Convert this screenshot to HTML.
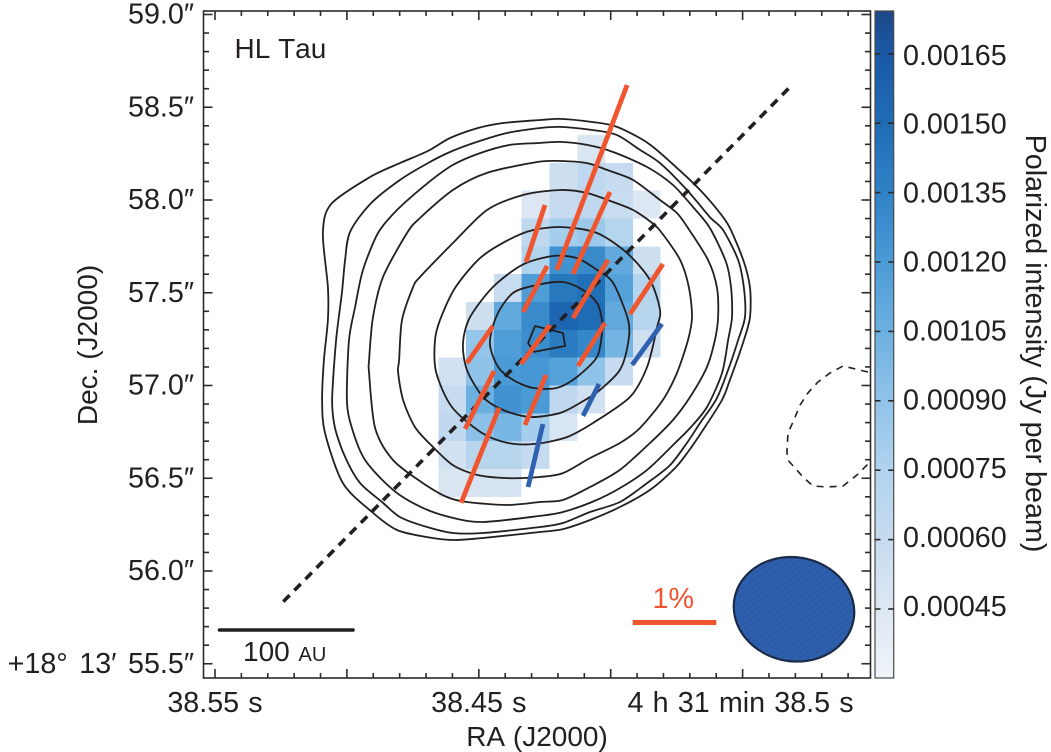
<!DOCTYPE html>
<html lang="en">
<head>
<meta charset="utf-8">
<title>HL Tau polarized intensity map</title>
<style>
html,body{margin:0;padding:0;background:#fff;width:1051px;height:752px;overflow:hidden}
svg{display:block}
text{font-family:"Liberation Sans",Arial,sans-serif;font-size:28.7px;fill:#231f20;font-kerning:none}
.title{font-size:28px}
</style>
</head>
<body>
<svg id="chart" width="1051" height="752" viewBox="0 0 1051 752" xmlns="http://www.w3.org/2000/svg">
  <defs>
    <clipPath id="plot-clip"><rect x="203.5" y="11" width="667" height="667"/></clipPath>
    <linearGradient id="cb-gradient" x1="0" y1="1" x2="0" y2="0"></linearGradient>
    <pattern id="beam-hatch" width="5" height="5" patternUnits="userSpaceOnUse" patternTransform="rotate(45)">
      <rect width="5" height="5" fill="#2d5fae"/>
      <rect width="1" height="5" fill="#27528f" opacity="0.55"/>
    </pattern>
  </defs>
  <g id="heatmap"></g>
  <g id="contours" clip-path="url(#plot-clip)"></g>
  <g id="axisline"></g>
  <g id="vectors"></g>
  <g id="ticks"></g>
  <rect x="203.5" y="11" width="667" height="667" fill="none" stroke="#2b2b2b" stroke-width="1.6"/>
  <g id="labels"></g>
  <text class="title" x="537" y="746" text-anchor="middle">RA (J2000)</text>
  <text class="title" transform="translate(97,345) rotate(-90)" text-anchor="middle">Dec. (J2000)</text>
  <text class="title" x="234.5" y="58">HL Tau</text>
  <line x1="219.5" y1="630" x2="353" y2="630" stroke="#231f20" stroke-width="3.6" stroke-linecap="round"/>
  <text class="title" x="243" y="661">100 <tspan style="font-size:20px" dx="1">AU</tspan></text>
  <text x="652.5" y="608" style="fill:#ef5630">1%</text>
  <rect x="632.7" y="620" width="83.6" height="5" fill="#ef5630"/>
  <ellipse cx="794" cy="609.3" rx="60.5" ry="52" transform="rotate(10 794 609.3)" fill="url(#beam-hatch)" stroke="#1b2a45" stroke-width="2.2"/>
  <rect x="875" y="11" width="18.7" height="667" fill="url(#cb-gradient)" stroke="#4a4a4a" stroke-width="1.2"/>
  <g id="cbticks"></g>
  <text transform="translate(1026,343.5) rotate(90)" text-anchor="middle">Polarized intensity (Jy per beam)</text>
</svg>
<script>
// Axis ticks (declination in arcsec, RA in ms past 38 s, intensity in micro-Jy)
const decMajorTicks = [59.0, 58.5, 58.0, 57.5, 57.0, 56.5, 56.0, 55.5];
const decTickLabels = ['59.0″', '58.5″', '58.0″', '57.5″', '57.0″', '56.5″', '56.0″', '+18° 13′ 55.5″'];
const raMajorTicks = [550, 500, 450, 400, 350];
const raTickLabels = ['38.55 s', '', '38.45 s', '', '4 h 31 min 38.5 s'];
const cbTicks = [450, 600, 750, 900, 1050, 1200, 1350, 1500, 1650];
const cbTickLabels = ['0.00045', '0.00060', '0.00075', '0.00090', '0.00105', '0.00120', '0.00135', '0.00150', '0.00165'];

// Colour scale
const cmapValues = [300, 450, 600, 750, 900, 1050, 1200, 1350, 1500, 1650, 1740];
const cmapColors = ['#f0f4fa', '#dde7f3', '#c6dbef', '#b0d3ee', '#90c3e9', '#6cb0e1', '#4a9ad6', '#2f82c6', '#1f6cb5', '#1a58a6', '#1e4788'];

// Heatmap intensity per beam-sampled cell, rows north to south, columns east to west
const cellRaStart = 465.35;
const cellRaStep = 10.54;
const cellDecStart = 58.35;
const cellDecStep = 0.15;
const intensity = [
  [0, 0, 0, 0, 0, 470, 0, 0],
  [0, 0, 0, 0, 550, 650, 600, 0],
  [0, 0, 0, 450, 600, 650, 580, 450],
  [0, 0, 0, 650, 800, 850, 720, 0],
  [0, 0, 0, 750, 1250, 1300, 1100, 550],
  [0, 0, 580, 1180, 1420, 1480, 1150, 720],
  [0, 550, 1100, 1300, 1550, 1500, 1100, 700],
  [0, 880, 1180, 1280, 1400, 1320, 1020, 550],
  [520, 900, 1200, 1220, 1150, 900, 600, 0],
  [600, 1050, 1250, 1200, 650, 520, 0, 0],
  [650, 920, 1000, 800, 480, 0, 0, 0],
  [520, 700, 700, 600, 0, 0, 0, 0],
  [470, 500, 500, 0, 0, 0, 0, 0]
];

// Continuum contours: RA (ms past 38 s) and Dec (arcsec), outermost first
const contourRa = [
  [506.0,491.2,479.9,469.3,460.9,450.3,440.8,426.8,419.2,406.7,397.6,385.9,374.9,366.1,358.6,354.8,349.5,347.2,347.2,349.5,354.8,357.8,365.0,370.7,375.6,385.1,396.5,407.8,418.1,426.8,448.4,459.8,469.6,481.0,490.5,501.5,508.3,509.4,508.7,507.2,507.2,509.1],
  [498.8,491.2,479.9,469.3,460.9,450.7,439.3,426.8,419.2,406.7,397.6,388.9,381.3,371.1,362.4,357.4,351.7,349.5,349.1,351.7,354.8,359.7,366.1,371.1,377.5,386.2,396.5,407.8,418.1,426.8,448.4,459.8,469.6,479.9,486.7,495.0,500.7,504.5,505.6,504.1,501.9,500.7],
  [493.9,488.2,481.0,469.3,459.8,449.5,438.2,427.9,419.2,409.0,399.1,386.2,376.4,368.8,362.4,356.3,354.4,354.0,355.5,357.8,363.5,369.9,375.6,386.2,396.5,407.1,418.1,426.8,448.4,459.8,471.2,482.5,493.1,498.1,500.0,499.2,496.9],
  [491.6,490.1,486.3,477.2,472.3,459.8,446.9,427.9,419.2,409.0,401.4,391.5,381.3,374.9,370.7,363.1,359.7,359.3,360.5,363.5,369.9,376.4,385.1,396.5,407.8,418.1,426.8,439.3,454.5,462.1,471.2,482.5,489.3,491.6],
  [480.2,479.1,474.9,472.3,459.8,446.9,433.2,419.2,409.0,399.1,391.5,384.3,380.6,373.7,370.3,369.2,370.7,374.9,380.2,388.9,396.5,407.8,418.1,426.8,439.3,450.7,459.8,467.4,474.2,478.7,480.6],
  [466.2,466.6,464.7,459.0,449.5,438.9,429.5,418.1,405.2,393.8,385.1,381.3,382.4,386.2,392.7,406.7,416.6,428.7,438.9,448.8,460.2],
  [456.0,453.3,444.6,433.6,421.9,412.8,405.2,399.1,393.4,393.4,396.5,404.1,411.6,419.2,430.6,440.8,448.4,454.5],
  [445.8,443.1,437.0,427.9,418.1,410.5,405.2,403.3,403.3,405.2,412.8,420.4,429.5,437.0,442.7],
  [428.7,431.3,429.1,417.3,418.1]
];
const contourDec = [
  [57.978,58.124,58.199,58.264,58.334,58.388,58.415,58.431,58.437,58.420,58.394,58.307,58.173,58.054,57.930,57.849,57.666,57.526,57.369,57.245,57.030,56.922,56.760,56.642,56.555,56.437,56.345,56.275,56.226,56.210,56.178,56.167,56.183,56.221,56.318,56.474,56.744,56.922,57.137,57.353,57.531,57.822],
  [57.828,57.978,58.108,58.199,58.259,58.313,58.361,58.388,58.394,58.377,58.350,58.270,58.199,58.054,57.908,57.838,57.677,57.526,57.369,57.245,57.111,56.933,56.798,56.690,56.571,56.474,56.372,56.318,56.259,56.237,56.205,56.205,56.237,56.291,56.372,56.474,56.615,56.771,56.922,57.245,57.499,57.677],
  [57.623,57.822,57.946,58.092,58.189,58.253,58.297,58.307,58.313,58.297,58.259,58.178,58.081,57.962,57.849,57.666,57.531,57.369,57.245,57.067,56.884,56.771,56.690,56.545,56.447,56.372,56.318,56.297,56.264,56.286,56.340,56.437,56.598,56.771,56.922,57.245,57.423],
  [57.137,57.369,57.585,57.822,57.903,58.054,58.146,58.205,58.210,58.199,58.162,58.108,58.000,57.930,57.849,57.677,57.526,57.369,57.245,57.100,56.938,56.814,56.690,56.545,56.453,56.383,56.372,56.356,56.372,56.399,56.474,56.598,56.771,57.067],
  [57.137,57.353,57.531,57.585,57.768,57.946,58.027,58.054,58.038,57.989,57.946,57.876,57.822,57.677,57.526,57.369,57.245,57.067,56.922,56.771,56.690,56.609,56.528,56.507,56.501,56.518,56.571,56.669,56.776,56.922,57.073],
  [57.073,57.245,57.353,57.526,57.687,57.784,57.838,57.854,57.822,57.714,57.569,57.407,57.315,57.100,56.938,56.798,56.722,56.685,56.690,56.744,56.884],
  [57.229,57.369,57.531,57.650,57.698,57.687,57.623,57.553,57.353,57.229,57.084,56.976,56.906,56.852,56.830,56.868,56.938,57.084],
  [57.229,57.380,57.499,57.542,57.558,57.515,57.445,57.353,57.283,57.154,57.046,56.987,56.987,57.030,57.100],
  [57.321,57.229,57.181,57.213,57.283]
];

// Negative (dashed) contour
const negContourRa = [302.5,311.9,316.9,321.4,325.2,328.2,330.9,332.8,333.2,332.8,327.1,323.3,318.0,311.9,306.6,301.7];
const negContourDec = [57.073,57.105,57.067,57.019,56.960,56.895,56.803,56.744,56.642,56.598,56.507,56.458,56.453,56.458,56.518,56.588];

// Major axis of the disk
const majorAxisRa = [524.1, 332.4];
const majorAxisDec = [55.835, 58.604];

// Polarization vectors: both ends
const redRa1 = [393.8,400.3,424.9,424.1,401.0,380.2,444.6,423.0,402.2,444.2,424.5,442.3];
const redDec1 = [58.620,58.043,57.973,57.644,57.677,57.655,57.321,57.326,57.337,57.078,57.057,56.879];
const redRa2 = [420.4,414.3,432.1,433.2,414.3,392.7,454.5,434.0,412.4,455.2,432.5,456.7];
const redDec2 = [57.623,57.601,57.666,57.396,57.364,57.385,57.121,57.116,57.105,56.766,56.787,56.367];
const blueRa1 = [380.6,404.4,425.7];
const blueDec1 = [57.332,57.008,56.792];
const blueRa2 = [391.9,410.5,431.3];
const blueDec2 = [57.111,56.836,56.453];

const NS = 'http://www.w3.org/2000/svg';
function xAxis(raMs) { return 215 + (550 - raMs) * 2.638; }
function yAxis(dec) { return 14.5 + (59 - dec) * 185.5; }
function cbAxis(v) { return 609 - (v - 450) * 0.46267; }
function hex(c) { return [1, 3, 5].map(function (i) { return parseInt(c.substr(i, 2), 16); }); }
function colorFor(v) {
  var n = cmapValues.length;
  if (v <= cmapValues[0]) return cmapColors[0];
  for (var i = 1; i < n; i++) {
    if (v <= cmapValues[i]) {
      var t = (v - cmapValues[i - 1]) / (cmapValues[i] - cmapValues[i - 1]);
      var a = hex(cmapColors[i - 1]), b = hex(cmapColors[i]);
      return 'rgb(' + a.map(function (q, k) { return Math.round(q + (b[k] - q) * t); }).join(',') + ')';
    }
  }
  return cmapColors[n - 1];
}
function make(tag, parentId) {
  var el = document.createElementNS(NS, tag);
  document.getElementById(parentId).appendChild(el);
  return el;
}
function pathFrom(ras, decs, closed) {
  var d = ras.map(function (r, i) {
    return (i ? 'L' : 'M') + xAxis(r).toFixed(1) + ' ' + yAxis(decs[i]).toFixed(1);
  }).join(' ');
  return closed ? d + ' Z' : d;
}
function smoothClosedPath(ras, decs) {
  var pts = ras.map(function (r, i) { return [xAxis(r), yAxis(decs[i])]; });
  var n = pts.length, k = 1 / 7;
  var d = 'M' + pts[0][0].toFixed(1) + ' ' + pts[0][1].toFixed(1);
  for (var i = 0; i < n; i++) {
    var p0 = pts[(i - 1 + n) % n], p1 = pts[i], p2 = pts[(i + 1) % n], p3 = pts[(i + 2) % n];
    d += ' C' + (p1[0] + (p2[0] - p0[0]) * k).toFixed(1) + ' ' + (p1[1] + (p2[1] - p0[1]) * k).toFixed(1) +
      ' ' + (p2[0] - (p3[0] - p1[0]) * k).toFixed(1) + ' ' + (p2[1] - (p3[1] - p1[1]) * k).toFixed(1) +
      ' ' + p2[0].toFixed(1) + ' ' + p2[1].toFixed(1);
  }
  return d + ' Z';
}

// Colour bar gradient
var grad = document.getElementById('cb-gradient');
cmapValues.forEach(function (v, i) {
  var st = document.createElementNS(NS, 'stop');
  st.setAttribute('offset', ((v - 300) / 1440).toFixed(4));
  st.setAttribute('stop-color', cmapColors[i]);
  grad.appendChild(st);
});

// Heatmap cells
intensity.forEach(function (row, j) {
  row.forEach(function (v, i) {
    if (!v) return;
    var x0 = xAxis(cellRaStart - i * cellRaStep), x1 = xAxis(cellRaStart - (i + 1) * cellRaStep);
    var y0 = yAxis(cellDecStart - j * cellDecStep), y1 = yAxis(cellDecStart - (j + 1) * cellDecStep);
    var r = make('rect', 'heatmap');
    
    
    r.setAttribute('x', x0.toFixed(1));
    r.setAttribute('y', y0.toFixed(1));
    r.setAttribute('width', (x1 - x0).toFixed(1));
    r.setAttribute('height', (y1 - y0).toFixed(1));
    r.setAttribute('fill', colorFor(v));
    r.setAttribute('shape-rendering', 'crispEdges');
  });
});

// Contours
contourRa.forEach(function (ras, k) {
  var p = make('path', 'contours');
  
  
  p.setAttribute('d', ras.length > 6 ? smoothClosedPath(ras, contourDec[k]) : pathFrom(ras, contourDec[k], true));
  p.setAttribute('fill', 'none');
  p.setAttribute('stroke', '#231f20');
  p.setAttribute('stroke-width', '1.8');
  p.setAttribute('stroke-linejoin', 'round');
});
var neg = make('path', 'contours');


neg.setAttribute('d', pathFrom(negContourRa, negContourDec, false));
neg.setAttribute('fill', 'none');
neg.setAttribute('stroke', '#231f20');
neg.setAttribute('stroke-width', '1.6');
neg.setAttribute('stroke-dasharray', '7 6');

// Major axis
var axisLine = make('path', 'axisline');


axisLine.setAttribute('d', pathFrom(majorAxisRa, majorAxisDec, false));
axisLine.setAttribute('fill', 'none');
axisLine.setAttribute('stroke', '#231f20');
axisLine.setAttribute('stroke-width', '3.6');
axisLine.setAttribute('stroke-dasharray', '9 6.8');

// Vectors
redRa1.forEach(function (r, i) {
  var l = make('line', 'vectors');
  
  
  l.setAttribute('x1', xAxis(r).toFixed(1));
  l.setAttribute('y1', yAxis(redDec1[i]).toFixed(1));
  l.setAttribute('x2', xAxis(redRa2[i]).toFixed(1));
  l.setAttribute('y2', yAxis(redDec2[i]).toFixed(1));
  l.setAttribute('stroke', '#ef5630');
  l.setAttribute('stroke-width', '4.8');
});
blueRa1.forEach(function (r, i) {
  var l = make('line', 'vectors');
  
  
  l.setAttribute('x1', xAxis(r).toFixed(1));
  l.setAttribute('y1', yAxis(blueDec1[i]).toFixed(1));
  l.setAttribute('x2', xAxis(blueRa2[i]).toFixed(1));
  l.setAttribute('y2', yAxis(blueDec2[i]).toFixed(1));
  l.setAttribute('stroke', '#3060b0');
  l.setAttribute('stroke-width', '4.8');
});

// Map ticks
function addTick(parentId, x1, y1, x2, y2, width) {
  var l = make('line', parentId);
  
  
  l.setAttribute('x1', x1);
  l.setAttribute('y1', y1);
  l.setAttribute('x2', x2);
  l.setAttribute('y2', y2);
  l.setAttribute('stroke', '#2b2b2b');
  l.setAttribute('stroke-width', width);
}
for (var m = 0; m <= 35; m++) {
  var yy = yAxis(59 - m * 0.1), isMajorY = m % 5 === 0, lenY = isMajorY ? 9 : 5.5;
  addTick('ticks', 203.5, yy, 203.5 + lenY, yy, 1.6);
  addTick('ticks', 870.5, yy, 870.5 - lenY, yy, 1.6);
}
for (var n = 0; n <= 24; n++) {
  var xx = xAxis(550 - n * 10), isMajorX = n % 5 === 0, lenX = isMajorX ? 9 : 5;
  addTick('ticks', xx, 678, xx, 678 - lenX, 1.6);
  addTick('ticks', xx, 11, xx, 11 + lenX, 1.6);
}

// Tick labels
decMajorTicks.forEach(function (d, i) {
  var t = make('text', 'labels');
  
  
  t.setAttribute('x', '194');
  t.setAttribute('y', (yAxis(d) + 9).toFixed(1));
  t.setAttribute('text-anchor', 'end');
  t.setAttribute('word-spacing', '3.5');
  t.textContent = decTickLabels[i];
});
raMajorTicks.forEach(function (r, i) {
  if (!raTickLabels[i]) return;
  var t = make('text', 'labels');
  
  
  t.setAttribute('x', (xAxis(r) - (i === 4 ? 2 : 0)).toFixed(1));
  t.setAttribute('y', '712');
  t.setAttribute('text-anchor', 'middle');
  t.setAttribute('word-spacing', '1.2');
  t.textContent = raTickLabels[i];
});

// Colour bar ticks and labels
cbTicks.forEach(function (v, i) {
  var y = cbAxis(v);
  addTick('cbticks', 875, y, 880.5, y, 1.6);
  addTick('cbticks', 893.7, y, 888.2, y, 1.6);
  var t = make('text', 'cbticks');
  
  
  t.setAttribute('x', '903');
  t.setAttribute('y', (616 - (609 - y) * 0.9928).toFixed(1));
  t.textContent = cbTickLabels[i];
});
</script>
</body>
</html>
